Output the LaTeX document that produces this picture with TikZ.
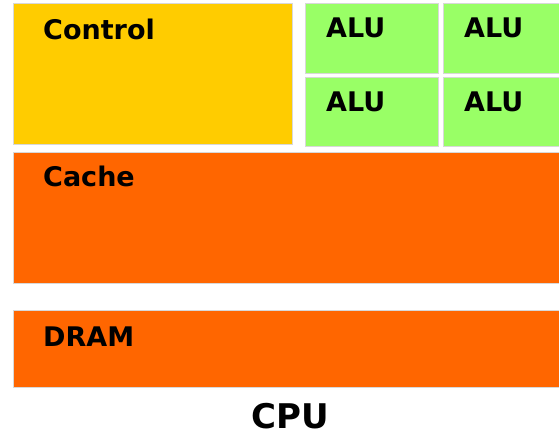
\documentclass[tikz,border=0pt]{standalone}
\usepackage{fontspec}
\setmainfont{DejaVu Sans}
\definecolor{ctrlyellow}{HTML}{FFCC00}
\definecolor{alugreen}{HTML}{99FF66}
\definecolor{memorange}{HTML}{FF6600}
\definecolor{edgegray}{HTML}{D8D8D8}
\tikzset{
  block/.style={draw=edgegray, line width=0.8pt},
  lbl/.style={anchor=base west, inner sep=0pt, font=\fontsize{27}{30}\selectfont\bfseries},
  title/.style={anchor=base, inner sep=0pt, font=\fontsize{34}{38}\selectfont\bfseries}
}
\begin{document}
\begin{tikzpicture}[x=1pt,y=-1pt]
\useasboundingbox (0,0) rectangle (559,437);
\fill[white] (0,0) rectangle (559,437);
% blocks
\draw[block, fill=ctrlyellow] (13,3.5) rectangle (292,144);
\draw[block, fill=alugreen] (305,3.5) rectangle (438,73);
\draw[block, fill=alugreen] (443,3.5) rectangle (562,73);
\draw[block, fill=alugreen] (305,77) rectangle (438,146.5);
\draw[block, fill=alugreen] (443,77) rectangle (562,146.5);
\draw[block, fill=memorange] (13,152) rectangle (562,283);
\draw[block, fill=memorange] (13,310.5) rectangle (562,387);
% labels
\node[lbl] (control) at (43,39) {Control};
\node[lbl] (alu1) at (326,37) {ALU};
\node[lbl] (alu2) at (464,37) {ALU};
\node[lbl] (alu3) at (326,111.5) {ALU};
\node[lbl] (alu4) at (464,111.5) {ALU};
\node[lbl] (cache) at (43,186) {Cache};
\node[lbl] (dram) at (43,346) {DRAM};
\node[title] (cpu) at (290.5,428) {CPU};
\end{tikzpicture}
\end{document}
